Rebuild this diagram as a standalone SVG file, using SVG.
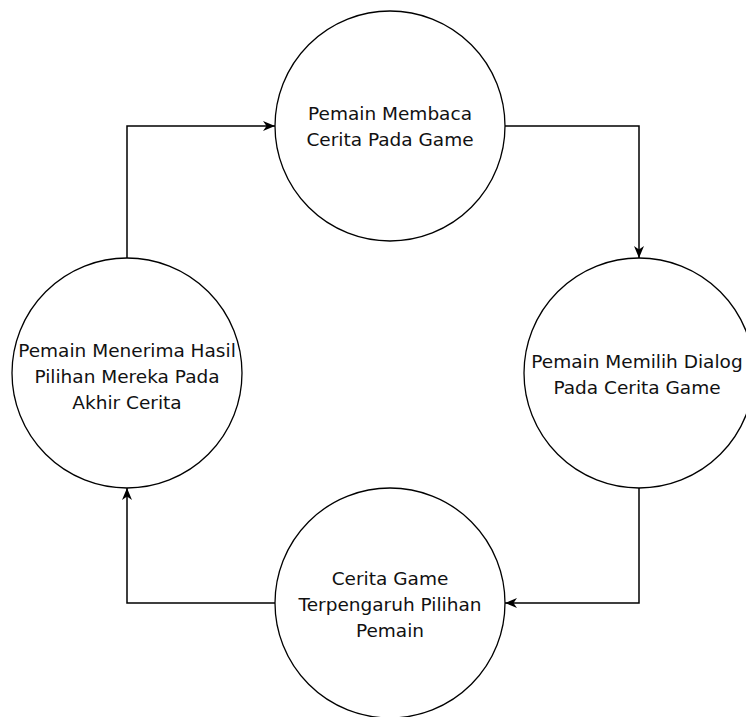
<svg xmlns="http://www.w3.org/2000/svg" width="746" height="717" viewBox="0 0 746 717">
<defs>
<style>
.node circle{fill:#fff;stroke:#000;stroke-width:1.3}
.node text{font-family:"DejaVu Sans",sans-serif;font-size:18.5px;fill:#111;text-anchor:middle}
.conn path{fill:none;stroke:#000;stroke-width:1.5;marker-end:url(#arr)}
</style>
<marker id="arr" markerUnits="userSpaceOnUse" markerWidth="14" markerHeight="12" refX="12" refY="6" orient="auto">
<path d="M0,1 L12,6 L0,11 L3.5,6 Z" fill="#000"/>
</marker>
</defs>
<rect width="746" height="717" fill="#fff"/>
<g id="connectors" class="conn">
<path d="M127,258 V126 H275"/>
<path d="M505,126 H639 V258"/>
<path d="M639,488 V603 H505"/>
<path d="M275,603 H127 V488"/>
</g>
<g id="n1" class="node">
<circle cx="390" cy="126" r="115"/>
<text x="390" y="120">Pemain Membaca</text>
<text x="390" y="146">Cerita Pada Game</text>
</g>
<g id="n2" class="node">
<circle cx="639" cy="373" r="115"/>
<text x="637" y="368">Pemain Memilih Dialog</text>
<text x="637" y="394">Pada Cerita Game</text>
</g>
<g id="n3" class="node">
<circle cx="390" cy="603" r="115"/>
<text x="390" y="585">Cerita Game</text>
<text x="390" y="611">Terpengaruh Pilihan</text>
<text x="390" y="637">Pemain</text>
</g>
<g id="n4" class="node">
<circle cx="127" cy="373" r="115"/>
<text x="127" y="357">Pemain Menerima Hasil</text>
<text x="127" y="383">Pilihan Mereka Pada</text>
<text x="127" y="409">Akhir Cerita</text>
</g>
</svg>
